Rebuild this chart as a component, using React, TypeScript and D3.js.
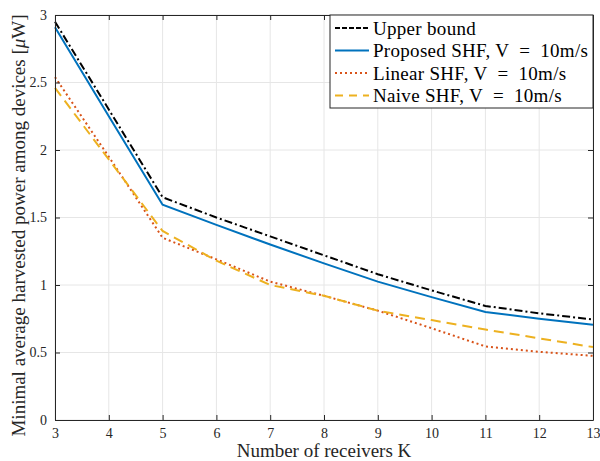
import React, { useEffect, useRef } from "react";
import * as d3 from "d3";

// number of receivers K
const receivers = [3, 4, 5, 6, 7, 8, 9, 10, 11, 12, 13];

// harvested power values, uW
const upperBound = [2.95, 2.3, 1.65, 1.5, 1.36, 1.22, 1.08, 0.96, 0.845, 0.79, 0.745];
const proposedShf = [2.91, 2.25, 1.595, 1.445, 1.3, 1.16, 1.025, 0.91, 0.8, 0.75, 0.705];
const linearShf = [2.54, 1.95, 1.35, 1.19, 1.025, 0.92, 0.81, 0.68, 0.545, 0.505, 0.475];
const naiveShf = [2.46, 1.93, 1.4, 1.18, 1.0, 0.92, 0.81, 0.74, 0.67, 0.605, 0.54];

// legend text, split around the "=" so it can be spaced like TeX math
const seriesNames = [
  ["Upper bound"],
  ["Proposed SHF, V", "=", "10m/s"],
  ["Linear SHF, V", "=", "10m/s"],
  ["Naive SHF, V", "=", "10m/s"],
];

const xTicks = [3, 4, 5, 6, 7, 8, 9, 10, 11, 12, 13];
const yTicks = [0, 0.5, 1, 1.5, 2, 2.5, 3];

function App() {
  const ref = useRef<SVGSVGElement>(null);

  useEffect(() => {
    const width = 600;
    const height = 461;
    const margin = { top: 15, right: 7, bottom: 41, left: 55 };
    const font = "'Liberation Serif', serif";

    const svg = d3.select(ref.current);
    svg.selectAll("*").remove();

    const x = d3
      .scaleLinear()
      .domain([3, 13])
      .range([margin.left, width - margin.right]);
    const y = d3
      .scaleLinear()
      .domain([0, 3])
      .range([height - margin.bottom, margin.top]);

    const axisColor = "#262626";

    // grid
    const grid = svg.append("g");
    grid
      .selectAll("line.vx")
      .data(xTicks)
      .enter()
      .append("line")
      .attr("x1", (d) => x(d))
      .attr("x2", (d) => x(d))
      .attr("y1", y(0))
      .attr("y2", y(3))
      .attr("stroke", "#e6e6e6")
      .attr("stroke-width", 1);
    grid
      .selectAll("line.hy")
      .data(yTicks)
      .enter()
      .append("line")
      .attr("x1", x(3))
      .attr("x2", x(13))
      .attr("y1", (d) => y(d))
      .attr("y2", (d) => y(d))
      .attr("stroke", "#e6e6e6")
      .attr("stroke-width", 1);

    // lines
    const series = [
      { values: upperBound, color: "#000000", dash: "8,3,2,3" },
      { values: proposedShf, color: "#0072BD", dash: null },
      { values: linearShf, color: "#D95319", dash: "2,3" },
      { values: naiveShf, color: "#EDB120", dash: "10,6" },
    ];

    const line = d3
      .line<number>()
      .x((_, i) => x(receivers[i]))
      .y((d) => y(d));

    series.forEach((s) => {
      svg
        .append("path")
        .attr("d", line(s.values))
        .attr("fill", "none")
        .attr("stroke", s.color)
        .attr("stroke-width", 2)
        .attr("stroke-dasharray", s.dash);
    });

    // axes
    const xAxis = d3
      .axisBottom(x)
      .tickValues(xTicks)
      .tickSizeInner(-5)
      .tickSizeOuter(0)
      .tickPadding(8);
    const gx = svg
      .append("g")
      .attr("transform", `translate(0,${y(0)})`)
      .call(xAxis);

    const yAxis = d3
      .axisLeft(y)
      .tickValues(yTicks)
      .tickFormat((d) => String(d))
      .tickSizeInner(-5)
      .tickSizeOuter(0)
      .tickPadding(8);
    const gy = svg
      .append("g")
      .attr("transform", `translate(${x(3)},0)`)
      .call(yAxis);

    const gTop = svg
      .append("g")
      .attr("transform", `translate(0,${y(3)})`)
      .call(d3.axisTop(x).tickValues(xTicks).tickSizeInner(-5).tickSizeOuter(0).tickFormat(() => ""));
    const gRight = svg
      .append("g")
      .attr("transform", `translate(${x(13)},0)`)
      .call(d3.axisRight(y).tickValues(yTicks).tickSizeInner(-5).tickSizeOuter(0).tickFormat(() => ""));

    [gx, gy, gTop, gRight].forEach((g) => {
      g.select(".domain").attr("stroke", axisColor).attr("stroke-width", 1);
      g.selectAll(".tick line").attr("stroke", axisColor);
      g.selectAll(".tick text")
        .attr("fill", axisColor)
        .style("font-family", font)
        .style("font-size", "14px");
    });

    // axis labels
    svg
      .append("text")
      .attr("x", (x(3) + x(13)) / 2)
      .attr("y", height - 4)
      .attr("text-anchor", "middle")
      .attr("fill", axisColor)
      .style("font-family", font)
      .style("font-size", "19px")
      .text("Number of receivers K");

    const yl = svg
      .append("text")
      .attr("transform", `translate(25,${(y(0) + y(3)) / 2 + 8}) rotate(-90)`)
      .attr("text-anchor", "middle")
      .attr("fill", axisColor)
      .style("font-family", font)
      .style("font-size", "19px");
    yl.append("tspan").text("Minimal average harvested power among devices [");
    yl.append("tspan").attr("font-style", "italic").text("μ");
    yl.append("tspan").text("W]");

    // legend
    const lg = svg.append("g");
    const boxLeft = 330;
    const boxTop = y(3);
    lg.append("rect")
      .attr("x", boxLeft)
      .attr("y", boxTop)
      .attr("width", x(13) - boxLeft)
      .attr("height", 93)
      .attr("fill", "white")
      .attr("stroke", axisColor)
      .attr("stroke-width", 1);

    series.forEach((s, i) => {
      const cy = boxTop + 13 + i * 22.5;
      lg.append("line")
        .attr("x1", boxLeft + 5)
        .attr("x2", boxLeft + 39)
        .attr("y1", cy)
        .attr("y2", cy)
        .attr("stroke", s.color)
        .attr("stroke-width", 2)
        .attr("stroke-dasharray", i === 0 ? "5,2" : i === 3 ? "8,6" : s.dash);
      const t = lg
        .append("text")
        .attr("x", boxLeft + 43)
        .attr("y", cy)
        .attr("dy", "0.35em")
        .attr("fill", "#000")
        .style("font-family", font)
        .style("font-size", "19px")
        .style("letter-spacing", "0.3px");
      const parts = seriesNames[i];
      t.append("tspan").text(parts[0]);
      if (parts.length > 1) {
        t.append("tspan").attr("dx", 10).text(parts[1]);
        t.append("tspan").attr("dx", 10).text(parts[2]);
      }
    });
  }, []);

  return (
    <svg
      ref={ref}
      width={600}
      height={461}
      style={{ position: "absolute", left: 0, top: 0, background: "white" }}
    />
  );
}

export default App;
